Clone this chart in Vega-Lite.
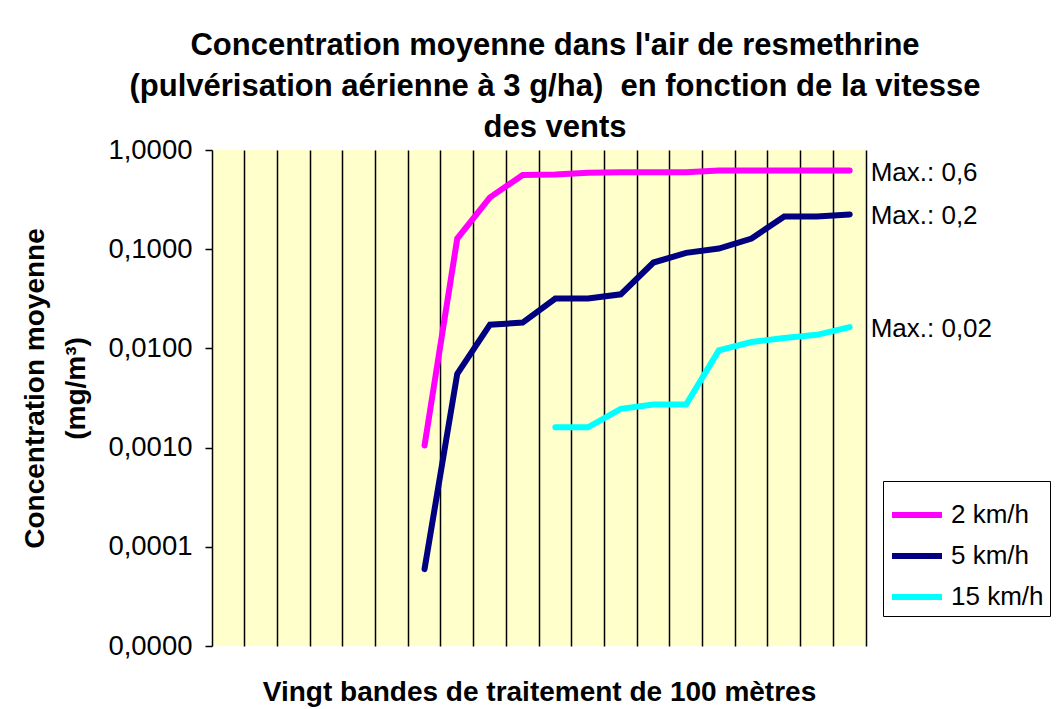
{
  "$schema": "https://vega.github.io/schema/vega-lite/v6.json",
  "width": 654,
  "height": 496,
  "autosize": {"type": "none"},
  "padding": {"left": 212, "top": 150, "right": 194, "bottom": 63},
  "background": "white",
  "title": {
    "text": ["Concentration moyenne dans l'air de resmethrine", "(pulvérisation aérienne à 3 g/ha)\u00a0 en fonction de la vitesse", "des vents"],
    "font": "Liberation Sans",
    "fontSize": 31,
    "fontWeight": "bold",
    "color": "black",
    "lineHeight": 41,
    "anchor": "middle",
    "dx": 16,
    "offset": -8
  },
  "config": {
    "view": {"fill": "#FFFFCC", "stroke": null},
    "font": "Liberation Sans"
  },
  "data": {
    "values": [
      {"vitesse": "2 km/h", "bande": 7, "conc": 0.00105},
      {"vitesse": "2 km/h", "bande": 8, "conc": 0.128},
      {"vitesse": "2 km/h", "bande": 9, "conc": 0.333},
      {"vitesse": "2 km/h", "bande": 10, "conc": 0.56},
      {"vitesse": "2 km/h", "bande": 11, "conc": 0.565},
      {"vitesse": "2 km/h", "bande": 12, "conc": 0.59},
      {"vitesse": "2 km/h", "bande": 13, "conc": 0.595},
      {"vitesse": "2 km/h", "bande": 14, "conc": 0.595},
      {"vitesse": "2 km/h", "bande": 15, "conc": 0.595},
      {"vitesse": "2 km/h", "bande": 16, "conc": 0.62},
      {"vitesse": "2 km/h", "bande": 17, "conc": 0.62},
      {"vitesse": "2 km/h", "bande": 18, "conc": 0.62},
      {"vitesse": "2 km/h", "bande": 19, "conc": 0.62},
      {"vitesse": "2 km/h", "bande": 20, "conc": 0.62, "etiquette": "Max.: 0,6"},
      {"vitesse": "5 km/h", "bande": 7, "conc": 0.0000596},
      {"vitesse": "5 km/h", "bande": 8, "conc": 0.00555},
      {"vitesse": "5 km/h", "bande": 9, "conc": 0.01735},
      {"vitesse": "5 km/h", "bande": 10, "conc": 0.0182},
      {"vitesse": "5 km/h", "bande": 11, "conc": 0.0318},
      {"vitesse": "5 km/h", "bande": 12, "conc": 0.0318},
      {"vitesse": "5 km/h", "bande": 13, "conc": 0.0351},
      {"vitesse": "5 km/h", "bande": 14, "conc": 0.0734},
      {"vitesse": "5 km/h", "bande": 15, "conc": 0.0918},
      {"vitesse": "5 km/h", "bande": 16, "conc": 0.1016},
      {"vitesse": "5 km/h", "bande": 17, "conc": 0.128},
      {"vitesse": "5 km/h", "bande": 18, "conc": 0.214},
      {"vitesse": "5 km/h", "bande": 19, "conc": 0.214},
      {"vitesse": "5 km/h", "bande": 20, "conc": 0.224, "etiquette": "Max.: 0,2"},
      {"vitesse": "15 km/h", "bande": 11, "conc": 0.0016},
      {"vitesse": "15 km/h", "bande": 12, "conc": 0.0016},
      {"vitesse": "15 km/h", "bande": 13, "conc": 0.00246},
      {"vitesse": "15 km/h", "bande": 14, "conc": 0.00272},
      {"vitesse": "15 km/h", "bande": 15, "conc": 0.00272},
      {"vitesse": "15 km/h", "bande": 16, "conc": 0.00955},
      {"vitesse": "15 km/h", "bande": 17, "conc": 0.0116},
      {"vitesse": "15 km/h", "bande": 18, "conc": 0.0127},
      {"vitesse": "15 km/h", "bande": 19, "conc": 0.0137},
      {"vitesse": "15 km/h", "bande": 20, "conc": 0.0164, "etiquette": "Max.: 0,02"}
    ]
  },
  "encoding": {
    "x": {
      "field": "bande",
      "type": "ordinal",
      "bandPosition": 0.5,
      "scale": {"type": "band", "domain": [1,2,3,4,5,6,7,8,9,10,11,12,13,14,15,16,17,18,19,20], "paddingInner": 0, "paddingOuter": 0},
      "axis": {
        "title": "Vingt bandes de traitement de 100 mètres",
        "titleFont": "Liberation Sans",
        "titleFontSize": 28,
        "titleFontWeight": "bold",
        "titleColor": "black",
        "titlePadding": 32,
        "labels": false,
        "ticks": false,
        "domain": false,
        "grid": true,
        "bandPosition": 1,
        "gridColor": "black",
        "gridWidth": 1.5,
        "gridOpacity": 1
      }
    },
    "y": {
      "field": "conc",
      "type": "quantitative",
      "scale": {"type": "log", "domain": [0.00001, 1], "nice": false},
      "axis": {
        "values": [0.00001, 0.0001, 0.001, 0.01, 0.1, 1],
        "labelExpr": "replace(format(datum.value, '.4f'), '.', ',')",
        "labelFont": "Liberation Sans",
        "labelFontSize": 27.5,
        "labelColor": "black",
        "labelPadding": 13,
        "tickColor": "black",
        "tickSize": 7,
        "tickWidth": 1.5,
        "domainColor": "black",
        "domainWidth": 1.5,
        "grid": false,
        "title": ["Concentration moyenne", "(mg/m³)"],
        "titleFont": "Liberation Sans",
        "titleFontSize": 28,
        "titleFontWeight": "bold",
        "titleColor": "black",
        "titleLineHeight": 41,
        "titleAngle": -90,
        "titleX": -191,
        "titleY": 238,
        "titleAlign": "center",
        "titleBaseline": "top"
      }
    }
  },
  "layer": [
    {
      "mark": {"type": "line", "strokeWidth": 6, "strokeCap": "round", "strokeJoin": "miter"},
      "encoding": {
        "color": {
          "field": "vitesse",
          "type": "nominal",
          "scale": {"domain": ["2 km/h", "5 km/h", "15 km/h"], "range": ["#FF00FF", "#000080", "#00FFFF"]},
          "legend": {
            "title": null,
            "orient": "none",
            "legendX": 671,
            "legendY": 331,
            "symbolType": "stroke",
            "symbolSize": 2500,
            "symbolStrokeWidth": 6,
            "labelFont": "Liberation Sans",
            "labelFontSize": 26,
            "labelColor": "black",
            "labelOffset": 6,
            "strokeColor": "black",
            "fillColor": "white",
            "padding": 6,
            "rowPadding": 0
          }
        }
      }
    },
    {
      "transform": [{"filter": "datum.etiquette != null"}],
      "mark": {"type": "text", "align": "left", "baseline": "middle", "dx": 21, "dy": 2, "font": "Liberation Sans", "fontSize": 26, "color": "black"},
      "encoding": {
        "text": {"field": "etiquette"}
      }
    }
  ]
}
